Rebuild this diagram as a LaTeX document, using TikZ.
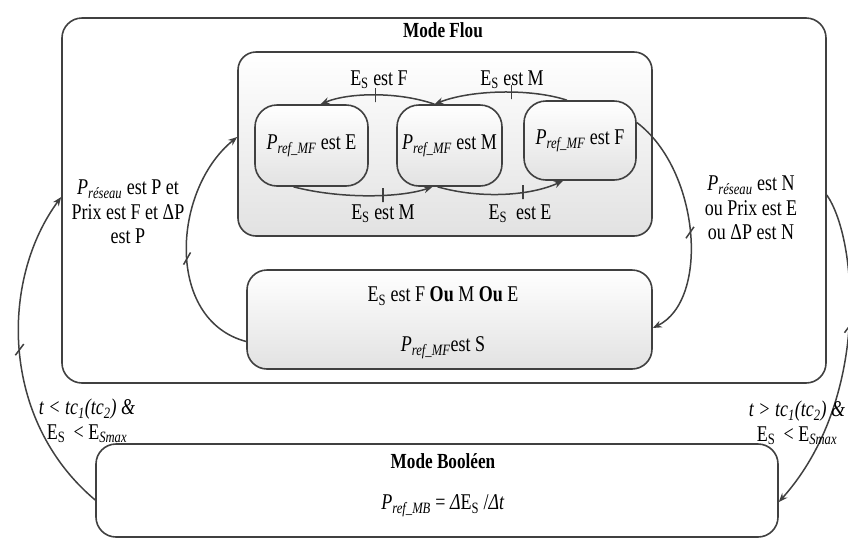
\documentclass[tikz,border=0pt]{standalone}
\usepackage{fontspec}
\setmainfont{Liberation Serif}[FakeStretch=0.8]
\usetikzlibrary{arrows.meta}

\definecolor{trait}{HTML}{404040}
\definecolor{gris}{HTML}{E2E2E2}

\newcommand{\Es}{E\textsubscript{S}}
\newcommand{\Pmf}{\textit{P}\textsubscript{\textit{ref\_MF}}}
\newcommand{\Pres}{\textit{P}\textsubscript{\textit{réseau}}}

\begin{document}
\begin{tikzpicture}[x=1pt, y=-1pt,
    every node/.style={font=\fontsize{22.5}{24.5}\selectfont},
    titre/.style={font=\fontsize{21.5}{23}\selectfont\bfseries},
    cadre/.style={draw=trait, line width=1.6pt, rounded corners=20pt, fill=white},
    etat/.style={draw=trait, line width=1.6pt, rounded corners=22pt, inner sep=2pt,
        top color=white, bottom color=gris, minimum height=81pt},
    fleche/.style={draw=trait, line width=1.5pt, -{Stealth[length=9pt, width=7pt]}},
    barre/.style={draw=trait, line width=1.5pt, inner sep=0pt, minimum width=0pt,
        minimum height=14pt}]
    \useasboundingbox (0,0) rectangle (848,547);

    % Mode flou
    \node[cadre, minimum width=764pt, minimum height=365pt] (flou) at (444,200.5) {};
    \node[titre] (tflou) at (443,30) {Mode Flou};
    \node[etat, rounded corners=18pt, minimum width=414pt, minimum height=184pt] (zone) at (445,144) {};

    % Etats
    \node[etat, minimum width=113pt] (E) at (311.5,145.5) {\Pmf{} est E};
    \node[etat, minimum width=105pt] (M) at (449.5,145.5) {\Pmf{} est M};
    \node[etat, minimum width=112pt, minimum height=79pt] (F) at (580,140.5) {\Pmf{} est F};

    % Etat S
    \node[etat, rounded corners=20pt, minimum width=405pt, minimum height=99pt] (S) at (449.5,319.5) {};
    \node (tS1) at (443,296) {\Es{} est F \textbf{Ou} M \textbf{Ou} E};
    \node (tS2) at (443,348) {\Pmf{}est S};

    % Mode booleen
    \node[cadre, minimum width=682pt, minimum height=93pt] (bool) at (437,490.5) {};
    \node[titre] (tbool) at (443,461) {Mode Booléen};
    \node (formule) at (443,506) {\textit{P}\textsubscript{\textit{ref\_MB}} = \textit{Δ}E\textsubscript{S} /\textit{Δt}};

    % Transitions entre etats
    \draw[fleche] ([xshift=-15pt]M.north) .. controls (400,92) and (350,92) .. ([xshift=9pt]E.north)
        node[barre, pos=.5] {};
    \draw[fleche] ([xshift=-13pt]F.north) .. controls (530,88) and (470,90) .. ([xshift=-15pt]M.north)
        node[barre, pos=.42] {};
    \draw[fleche] ([xshift=-18pt]E.south) .. controls (340,199) and (400,198) .. ([xshift=-17pt]M.south)
        node[barre, pos=.6] {};
    \draw[fleche] ([xshift=-12pt]M.south) .. controls (480,199) and (530,196) .. ([xshift=-17pt]F.south)
        node[barre, pos=.65] {};
    \node (l1) at (379,80) {\Es{} est F};
    \node (l2) at (512,80) {\Es{} est M};
    \node (l3) at (383,214) {\Es{} est M};
    \node (l4) at (520,214) {\Es{}\ \ est E};

    % Entree et sortie de l'etat S
    \draw[fleche] ([yshift=-22pt]S.west) .. controls (165,320) and (172,190) .. ([yshift=7pt]zone.west)
        node[barre, pos=.47, rotate=-30] {};
    \draw[fleche] ([yshift=18pt]F.east) .. controls (700,170) and (710,300) .. ([yshift=-8.5pt]S.east)
        node[barre, pos=.5, rotate=-35] {};
    \node[align=center] (cg) at (128,212) {\Pres{} est P et\\Prix est F et ΔP\\est P};
    \node[align=center] (cd) at (751,208) {\Pres{} est N\\ou Prix est E\\ou ΔP est N};

    % Passage entre les modes
    \draw[fleche] ([yshift=-9.5pt]bool.west) .. controls (0,420) and (0,280) .. ([yshift=3.5pt]flou.west)
        node[barre, pos=.5, rotate=-37] {};
    \draw[fleche] ([yshift=5.5pt]flou.east) .. controls (858,240) and (870,400) .. ([yshift=-11.5pt]bool.east)
        node[barre, pos=.5, rotate=-37] {};
    \node[align=center] (tg) at (87,421) {\textit{t < tc\textsubscript{1}(tc\textsubscript{2}) \&}\\\Es{} \,< E\textsubscript{\textit{Smax}}};
    \node[align=center] (td) at (797,423) {\textit{t > tc\textsubscript{1}(tc\textsubscript{2}) \&}\\\Es{} \,< E\textsubscript{\textit{Smax}}};
\end{tikzpicture}
\end{document}
